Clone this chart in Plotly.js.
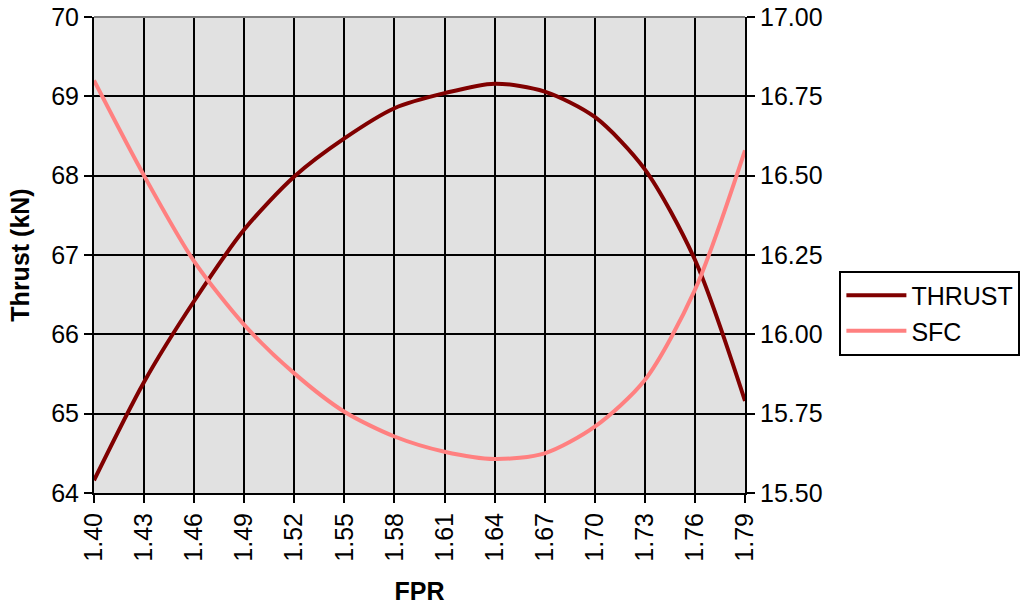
<!DOCTYPE html>
<html><head><meta charset="utf-8">
<script src="https://cdn.plot.ly/plotly-3.0.1.min.js"></script>
<style>html,body{margin:0;padding:0;background:#fff;}#chart{width:1032px;height:612px;}</style>
</head><body><div id="chart"></div>
<script>
const fpr = [1.40,1.43,1.46,1.49,1.52,1.55,1.58,1.61,1.64,1.67,1.70,1.73,1.76,1.79];
const thrust = [64.16,65.40,66.42,67.32,67.99,68.47,68.85,69.04,69.16,69.06,68.74,68.08,66.94,65.16];
const sfc = [16.80,16.50,16.23,16.03,15.877,15.756,15.678,15.630,15.607,15.625,15.709,15.856,16.14,16.58];
const font = "'Liberation Sans', Arial, sans-serif";
const traces = [
  {x: fpr, y: thrust, name: 'THRUST', type: 'scatter', mode: 'lines', line: {color: '#800000', width: 4, shape: 'spline', smoothing: 0.8}, yaxis: 'y'},
  {x: fpr, y: sfc, name: 'SFC', type: 'scatter', mode: 'lines', line: {color: '#ff8080', width: 4, shape: 'spline', smoothing: 0.8}, yaxis: 'y2'}
];
const layout = {
  width: 1032, height: 612,
  margin: {l: 94, r: 287, t: 17, b: 119},
  paper_bgcolor: '#ffffff', plot_bgcolor: '#e1e1e1',
  font: {family: font, size: 25, color: '#000'},
  showlegend: true,
  legend: {x: 1.145, xanchor: 'left', y: 0.378, yanchor: 'middle', bordercolor: '#000', borderwidth: 2, bgcolor: '#fff', font: {size: 25}, tracegroupgap: 0, itemwidth: 60},
  xaxis: {range: [1.40, 1.79], tickmode: 'array', tickvals: fpr, ticktext: fpr.map(v => v.toFixed(2)), tickangle: -90,
    showgrid: true, gridcolor: '#000', gridwidth: 2, zeroline: false, showline: true, linecolor: '#000', linewidth: 2,
    ticks: 'outside', ticklen: 8, tickwidth: 2, tickcolor: '#000', mirror: false,
    title: {text: '<b>FPR</b>', font: {size: 25}, standoff: 22}},
  yaxis: {range: [64, 70], dtick: 1, showgrid: true, gridcolor: '#000', gridwidth: 2, zeroline: false,
    showline: true, linecolor: '#000', linewidth: 2, ticks: 'outside', ticklen: 8, tickwidth: 2, tickcolor: '#000',
    title: {text: '<b>Thrust (kN)</b>', font: {size: 25}, standoff: 14}},
  yaxis2: {range: [15.5, 17.0], dtick: 0.25, tickformat: '.2f', overlaying: 'y', side: 'right', showgrid: false, zeroline: false,
    showline: true, linecolor: '#000', linewidth: 2, ticks: 'outside', ticklen: 8, tickwidth: 2, tickcolor: '#000'},
  shapes: [{type: 'line', xref: 'paper', yref: 'paper', x0: 0, x1: 1, y0: 1, y1: 1, line: {color: '#808080', width: 2}}]
};
Plotly.newPlot('chart', traces, layout, {displayModeBar: false, staticPlot: true});
</script></body></html>
